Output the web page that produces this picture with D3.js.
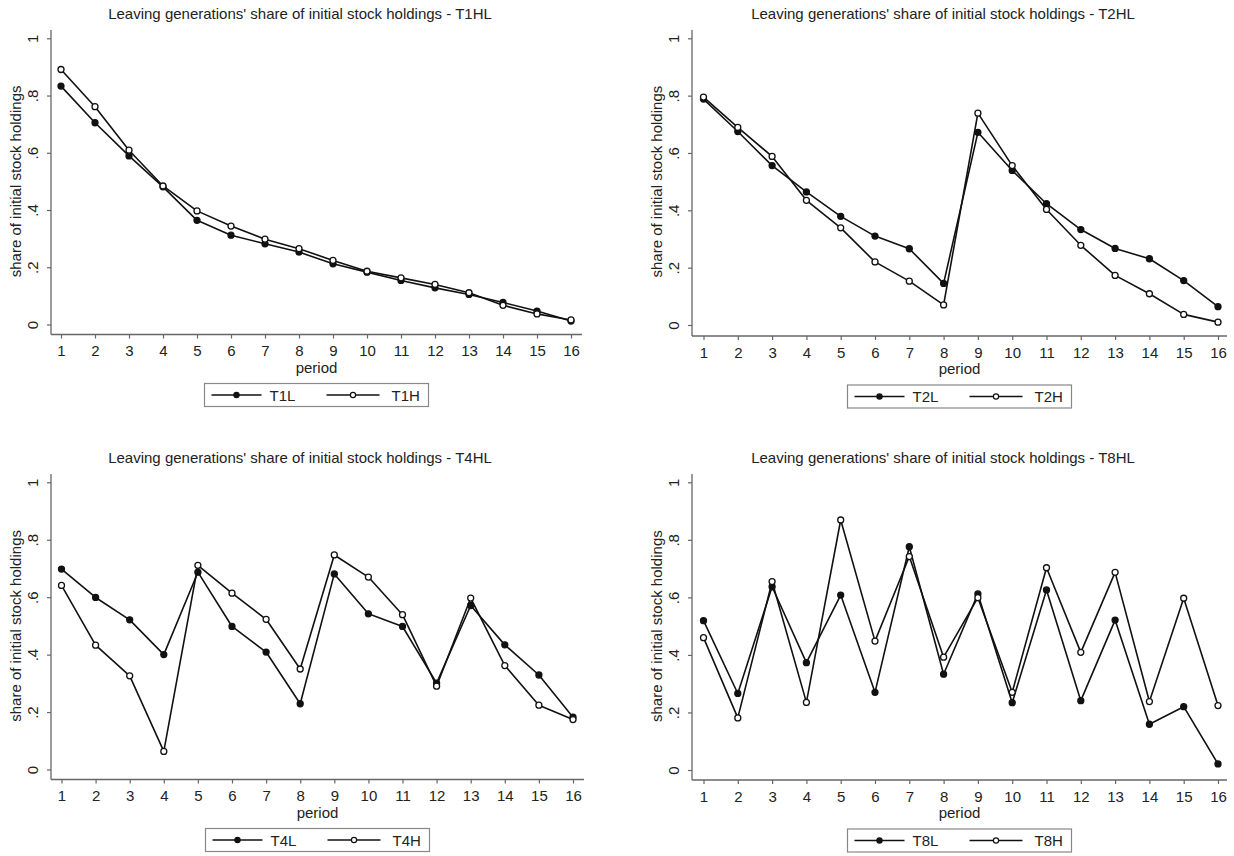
<!DOCTYPE html>
<html><head><meta charset="utf-8">
<script src="https://cdn.jsdelivr.net/npm/d3@7"></script>
<style>
body{margin:0;background:#fff}
svg{display:block}
text{font-family:Arial,"Liberation Sans",sans-serif;fill:#222}
</style>
</head><body>
<svg id="chart" width="1234" height="856"></svg>
<script>
// ---- data ----
const periods = [1,2,3,4,5,6,7,8,9,10,11,12,13,14,15,16];
const yTicks = [0, 0.2, 0.4, 0.6, 0.8, 1];
const yTickLabels = ["0", ".2", ".4", ".6", ".8", "1"];
const panelTitles = [
  "Leaving generations' share of initial stock holdings - T1HL",
  "Leaving generations' share of initial stock holdings - T2HL",
  "Leaving generations' share of initial stock holdings - T4HL",
  "Leaving generations' share of initial stock holdings - T8HL"
];
const lowNames  = ["T1L", "T2L", "T4L", "T8L"];
const highNames = ["T1H", "T2H", "T4H", "T8H"];
const xTitle = "period";
const yTitle = "share of initial stock holdings";

const t1L = [0.833,0.705,0.589,0.481,0.364,0.312,0.282,0.253,0.212,0.183,0.154,0.128,0.105,0.077,0.047,0.012];
const t1H = [0.891,0.761,0.609,0.484,0.397,0.344,0.298,0.265,0.224,0.186,0.163,0.140,0.111,0.067,0.037,0.016];
const t2L = [0.788,0.675,0.556,0.464,0.379,0.310,0.266,0.145,0.672,0.539,0.423,0.333,0.267,0.231,0.155,0.064];
const t2H = [0.795,0.689,0.588,0.435,0.339,0.220,0.153,0.070,0.739,0.556,0.403,0.278,0.173,0.109,0.037,0.010];
const t4L = [0.698,0.599,0.521,0.400,0.687,0.498,0.409,0.229,0.681,0.542,0.498,0.301,0.571,0.434,0.329,0.182];
const t4H = [0.641,0.433,0.326,0.063,0.711,0.614,0.523,0.350,0.747,0.670,0.539,0.290,0.597,0.362,0.224,0.174];
const t8L = [0.519,0.266,0.637,0.373,0.608,0.270,0.776,0.333,0.612,0.234,0.626,0.241,0.521,0.159,0.220,0.021];
const t8H = [0.460,0.181,0.655,0.235,0.869,0.448,0.742,0.392,0.599,0.270,0.703,0.409,0.687,0.238,0.597,0.224];

const lowSeries  = [t1L, t2L, t4L, t8L];
const highSeries = [t1H, t2H, t4H, t8H];

// ---- layout ----
const panels = [
  {axisX:51,  xFirst:61,  xLast:571,  yZero:324.5, yOne:38.3,  axisY:334.5, top:30,  right:582,  titleX:300, titleY:19},
  {axisX:692, xFirst:703.5,xLast:1218, yZero:325,  yOne:38.3,  axisY:336,   top:30,  right:1227, titleX:943, titleY:19},
  {axisX:51,  xFirst:61.5,xLast:573,  yZero:769.5, yOne:482.3, axisY:779.5, top:474, right:584,  titleX:300, titleY:463},
  {axisX:692, xFirst:703.5,xLast:1218, yZero:770,  yOne:482.3, axisY:780,   top:474, right:1227, titleX:943, titleY:463}
];

const svg = d3.select("#chart");
const axisColor = "#666";

panels.forEach((p, i) => {
  const g = svg.append("g");
  const x = d3.scaleLinear().domain([1,16]).range([p.xFirst, p.xLast]);
  const y = d3.scaleLinear().domain([0,1]).range([p.yZero, p.yOne]);

  // title
  g.append("text").attr("x", p.titleX).attr("y", p.titleY)
    .attr("text-anchor","middle").style("font-size","15px").text(panelTitles[i]);

  // y axis
  const yAx = g.append("g").attr("transform", `translate(${p.axisX},0)`)
    .call(d3.axisLeft(y).tickValues(yTicks).tickSize(4).tickFormat((d,j)=>yTickLabels[j]));
  yAx.select(".domain").remove();
  yAx.append("line").attr("x1",0).attr("x2",0).attr("y1",p.top).attr("y2",p.axisY)
    .attr("stroke",axisColor).attr("stroke-width",1.3);
  yAx.selectAll(".tick line").attr("stroke",axisColor).attr("stroke-width",1.2);
  yAx.selectAll(".tick text")
    .attr("x",0).attr("dy",null)
    .attr("transform","translate(-19,0) rotate(-90)")
    .attr("text-anchor","middle").attr("dominant-baseline","central")
    .style("font-size","15px").attr("fill","#222");

  // x axis
  const xAx = g.append("g").attr("transform", `translate(0,${p.axisY})`)
    .call(d3.axisBottom(x).tickValues(periods).tickSize(4).tickFormat(d3.format("d")));
  xAx.select(".domain").remove();
  xAx.append("line").attr("x1",p.axisX).attr("x2",p.right).attr("y1",0).attr("y2",0)
    .attr("stroke",axisColor).attr("stroke-width",1.3);
  xAx.selectAll(".tick line").attr("stroke",axisColor).attr("stroke-width",1.2);
  xAx.selectAll(".tick text").attr("y",11).attr("dy","0.71em")
    .style("font-size","15px").attr("fill","#222");

  // axis titles
  g.append("text").attr("x",(p.axisX+p.right)/2).attr("y",p.axisY+38)
    .attr("text-anchor","middle").style("font-size","15px").text(xTitle);
  g.append("text")
    .attr("transform",`translate(${p.axisX-36},${(p.yZero+p.yOne)/2}) rotate(-90)`)
    .attr("text-anchor","middle").attr("dominant-baseline","central")
    .style("font-size","15px").text(yTitle);

  // series
  const line = d3.line().x((d,j)=>x(periods[j])).y(d=>y(d));
  [[lowSeries[i], true],[highSeries[i], false]].forEach(([vals, filled]) => {
    g.append("path").datum(vals).attr("d", line)
      .attr("fill","none").attr("stroke","#111").attr("stroke-width",1.6)
      .attr("stroke-linejoin","round");
  });
  [[lowSeries[i], true],[highSeries[i], false]].forEach(([vals, filled]) => {
    g.selectAll(null).data(vals).enter().append("circle")
      .attr("cx",(d,j)=>x(periods[j])).attr("cy",d=>y(d)).attr("r",3)
      .attr("fill", filled ? "#111" : "#fff").attr("stroke","#111").attr("stroke-width",1.3);
  });

  // legend
  const cx = (p.axisX + p.right)/2;
  const ly = p.axisY + 49;
  const lg = g.append("g").attr("transform",`translate(${cx},${ly})`);
  lg.append("rect").attr("x",-112).attr("y",0).attr("width",224).attr("height",23)
    .attr("fill","#fff").attr("stroke","#888").attr("stroke-width",1.2);
  const keys = [{name:lowNames[i], filled:true, x0:-105, x1:-55, tx:-47},
                {name:highNames[i], filled:false, x0:10, x1:63, tx:75}];
  keys.forEach(k => {
    lg.append("line").attr("x1",k.x0).attr("x2",k.x1).attr("y1",11.5).attr("y2",11.5)
      .attr("stroke","#111").attr("stroke-width",1.4);
    lg.append("circle").attr("cx",(k.x0+k.x1)/2).attr("cy",11.5).attr("r",2.6)
      .attr("fill",k.filled?"#111":"#fff").attr("stroke","#111").attr("stroke-width",1.2);
    lg.append("text").attr("x",k.tx).attr("y",11.5).attr("dominant-baseline","central")
      .style("font-size","15px").text(k.name);
  });
});
</script>
</body></html>
